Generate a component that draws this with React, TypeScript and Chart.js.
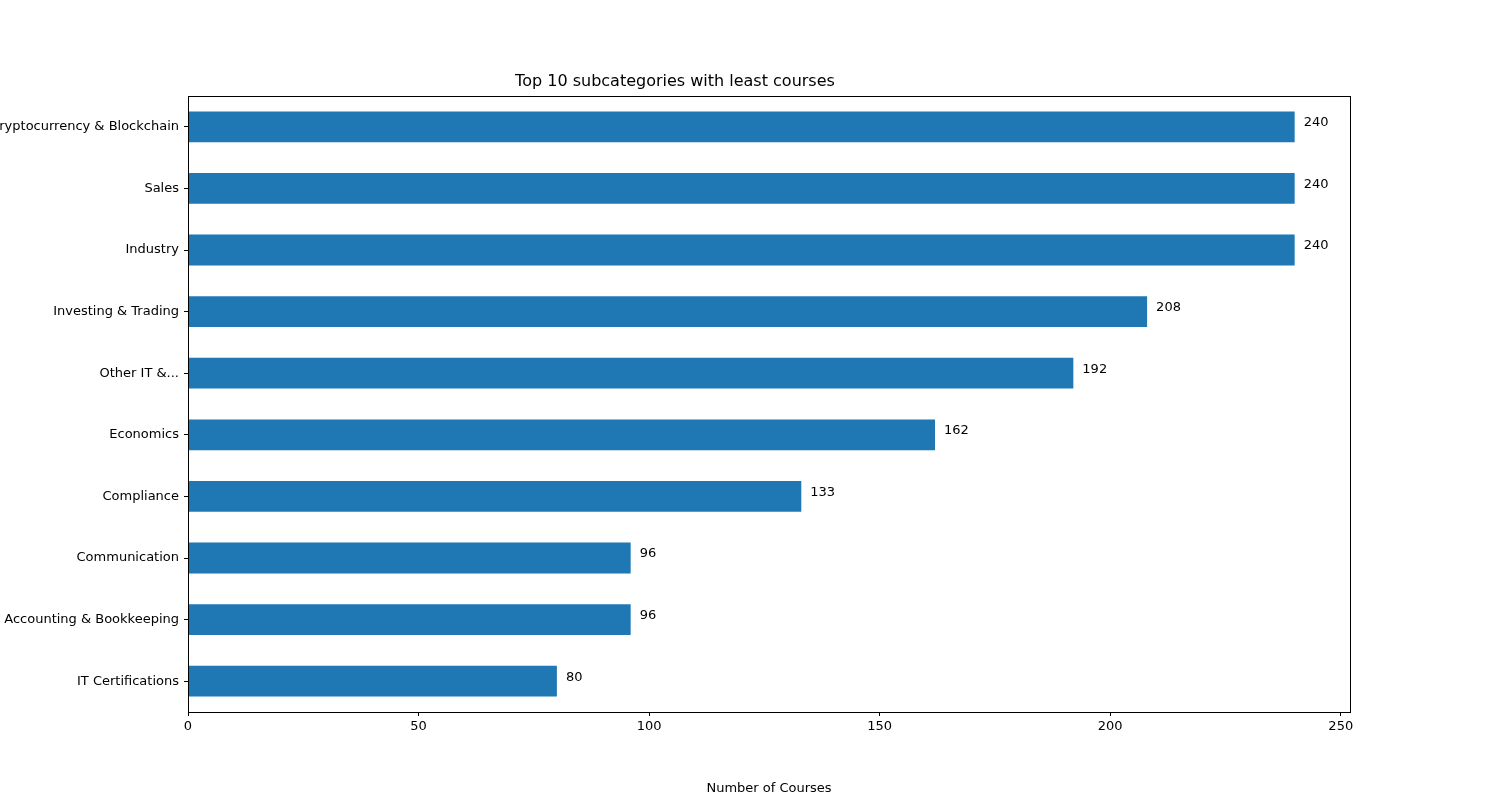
import React, { useEffect, useRef } from "react"
import Chart from "chart.js/auto"

const categories = [
  "Cryptocurrency & Blockchain",
  "Sales",
  "Industry",
  "Investing & Trading",
  "Other IT &...",
  "Economics",
  "Compliance",
  "Communication",
  "Accounting & Bookkeeping",
  "IT Certifications",
]
const courses = [240, 240, 240, 208, 192, 162, 133, 96, 96, 80]
const xTicks = [0, 50, 100, 150, 200, 250]

const FONT = "'DejaVu Sans', sans-serif"

const extras = {
  id: "extras",
  afterDatasetsDraw(chart: any) {
    const { ctx, chartArea } = chart
    ctx.save()
    ctx.strokeStyle = "#000"
    ctx.lineWidth = 1
    ctx.strokeRect(chartArea.left + 0.5, chartArea.top + 0.5, chartArea.right - chartArea.left, chartArea.bottom - chartArea.top)
    ctx.fillStyle = "#000"
    ctx.font = `13px ${FONT}`
    ctx.textBaseline = "middle"
    ctx.textAlign = "left"
    chart.getDatasetMeta(0).data.forEach((bar: any, i: number) => {
      ctx.fillText(String(courses[i]), bar.x + 9, bar.y - 4)
    })
    ctx.restore()
  },
}

export default function App() {
  const ref = useRef<HTMLCanvasElement>(null)

  useEffect(() => {
    let chart: Chart | null = null
    if (ref.current) {
      chart = new Chart(ref.current, {
        type: "bar",
        data: {
          labels: categories,
          datasets: [
            {
              data: courses,
              backgroundColor: "#1f77b4",
              categoryPercentage: 1,
              barPercentage: 0.5,
            },
          ],
        },
        options: {
          indexAxis: "y",
          responsive: false,
          animation: false,
          layout: { padding: { top: 72, right: 150, bottom: 0, left: 0 } },
          plugins: {
            legend: { display: false },
            tooltip: { enabled: false },
            title: {
              display: true,
              text: "Top 10 subcategories with least courses",
              color: "#000",
              font: { family: FONT, size: 16, weight: "normal" },
              padding: { top: 0, bottom: 4.8 },
            },
          },
          scales: {
            x: {
              min: 0,
              max: 252,
              afterBuildTicks: (s: any) => {
                s.ticks = xTicks.map((v) => ({ value: v }))
              },
              afterFit: (s: any) => {
                s.height = 88
              },
              grid: { drawOnChartArea: false, drawTicks: true, tickLength: 4, color: "#000" },
              border: { display: false },
              ticks: { color: "#000", font: { family: FONT, size: 13 }, padding: 3 },
              title: {
                display: true,
                text: "Number of Courses",
                color: "#000",
                font: { family: FONT, size: 13 },
                padding: { top: 4 },
              },
            },
            y: {
              offset: true,
              afterFit: (s: any) => {
                s.width = 188
              },
              grid: { drawOnChartArea: false, drawTicks: true, tickLength: 4, color: "#000", offset: false },
              border: { display: false },
              ticks: { color: "#000", font: { family: FONT, size: 13 }, padding: 5 },
            },
          },
        },
        plugins: [extras],
      })
    }
    return () => {
      chart?.destroy()
    }
  }, [])

  return (
    <div style={{ position: "fixed", left: 0, top: 0, width: 1500, height: 800, background: "#fff" }}>
      <canvas ref={ref} width={1500} height={800} />
    </div>
  )
}
